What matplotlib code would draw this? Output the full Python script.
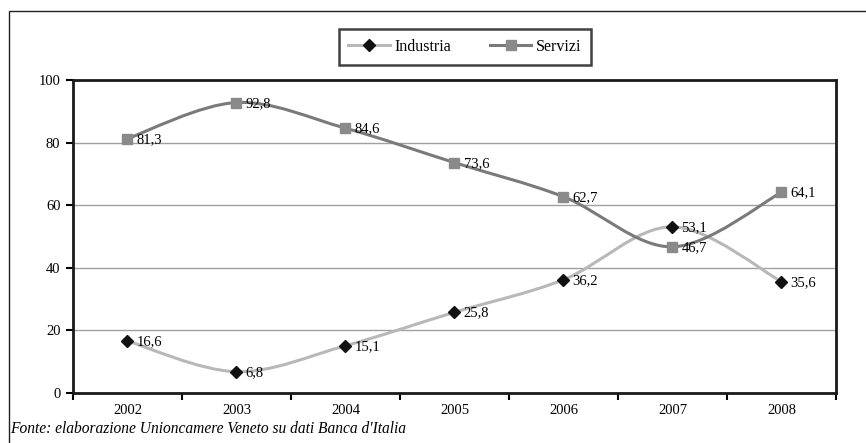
import numpy as np
import matplotlib.pyplot as plt
from matplotlib.path import Path
from matplotlib.patches import PathPatch, Rectangle
from matplotlib.lines import Line2D

plt.rcParams["font.family"] = ["Liberation Serif", "DejaVu Serif"]

years = ["2002", "2003", "2004", "2005", "2006", "2007", "2008"]
industria = [16.6, 6.8, 15.1, 25.8, 36.2, 53.1, 35.6]
servizi = [81.3, 92.8, 84.6, 73.6, 62.7, 46.7, 64.1]
source = "Fonte: elaborazione Unioncamere Veneto su dati Banca d'Italia"


def smooth_path(xs, ys):
    # Catmull-Rom style Bezier segments, like a spreadsheet "smoothed line"
    pts = np.column_stack([xs, ys]).astype(float)
    verts = [pts[0]]
    codes = [Path.MOVETO]
    n = len(pts)
    for i in range(n - 1):
        p0 = pts[i - 1] if i > 0 else pts[i]
        p1 = pts[i]
        p2 = pts[i + 1]
        p3 = pts[i + 2] if i + 2 < n else pts[i + 1]
        c1 = p1 + (p2 - p0) / 6.0
        c2 = p2 - (p3 - p1) / 6.0
        verts += [c1, c2, p2]
        codes += [Path.CURVE4] * 3
    return Path(verts, codes)


fig = plt.figure(figsize=(8.66, 4.43), dpi=100)
ax = fig.add_axes([73 / 866, 1 - 393 / 443, (836 - 73) / 866, (393 - 80) / 443])

x = np.arange(len(years))

# outer frame
fig.patches.append(Rectangle((9 / 866, -0.1), 1.2, 1 - 11 / 443 + 0.1,
                             transform=fig.transFigure, fill=False,
                             edgecolor="#222222", linewidth=1.0))

ax.set_xlim(-0.5, len(years) - 0.5)
ax.set_ylim(0, 100)
ax.set_yticks(range(0, 101, 20))
ax.set_xticks(x)
ax.set_xticklabels(years)
ax.set_xticks(np.arange(-0.5, len(years), 1.0), minor=True)
ax.tick_params(axis="x", which="major", length=0, pad=8, labelsize=10.5)
ax.tick_params(axis="x", which="minor", length=5, width=1.5, direction="out")
ax.tick_params(axis="y", length=5, width=1.5, direction="out", labelsize=10.5, pad=4)

ax.grid(axis="y", color="#a0a0a0", linewidth=1.0)
ax.set_axisbelow(True)
for side in ["left", "right", "top", "bottom"]:
    ax.spines[side].set_linewidth(2.0)
    ax.spines[side].set_color("#1a1a1a")

ind_color = "#b8b8b8"
ser_color = "#7a7a7a"

ax.add_patch(PathPatch(smooth_path(x, industria), facecolor="none",
                       edgecolor=ind_color, linewidth=2.2, zorder=3))
ax.add_patch(PathPatch(smooth_path(x, servizi), facecolor="none",
                       edgecolor=ser_color, linewidth=2.2, zorder=3))
ax.plot(x, industria, linestyle="none", marker="D", markersize=6.5,
        color="#111111", zorder=4)
ax.plot(x, servizi, linestyle="none", marker="s", markersize=6.5,
        color="#8a8a8a", zorder=4)

for xi, v in zip(x, industria):
    ax.annotate(f"{v:.1f}".replace(".", ","), (xi, v), xytext=(6.5, -0.5),
                textcoords="offset points", ha="left", va="center",
                fontsize=10.5, zorder=5)
for xi, v in zip(x, servizi):
    ax.annotate(f"{v:.1f}".replace(".", ","), (xi, v), xytext=(6.5, -0.5),
                textcoords="offset points", ha="left", va="center",
                fontsize=10.5, zorder=5)

handles = [
    Line2D([], [], color=ind_color, linewidth=2.2, marker="D",
           markersize=6.5, markerfacecolor="#111111", markeredgecolor="#111111"),
    Line2D([], [], color=ser_color, linewidth=2.2, marker="s",
           markersize=6.5, markerfacecolor="#8a8a8a", markeredgecolor="#8a8a8a"),
]
leg = fig.legend(handles, ["Industria", "Servizi"], ncol=2,
                 loc="center", bbox_to_anchor=(465 / 866, 1 - 47 / 443),
                 fontsize=11.5, frameon=True, fancybox=False,
                 handlelength=2.6, handletextpad=0.3, columnspacing=2.4,
                 borderpad=0.6)
leg.get_frame().set_edgecolor("#111111")
leg.get_frame().set_linewidth(1.8)

fig.text(10 / 866, 1 - 429 / 443, source, fontsize=11.2, style="italic",
         ha="left", va="center")

fig.savefig("out.png", dpi=100)
